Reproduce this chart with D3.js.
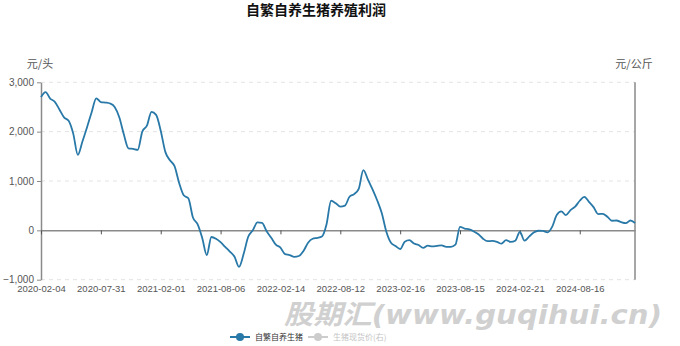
<!DOCTYPE html>
<html>
<head>
<meta charset="utf-8">
<script src="https://cdn.jsdelivr.net/npm/d3@7"></script>
<style>
  body { margin: 0; background: #fff; }
  svg { display: block; font-family: "Liberation Sans", "Noto Sans CJK SC", sans-serif; }
</style>
</head>
<body>
<svg id="chart" width="680" height="346"></svg>
<script>
'use strict';

// tick labels on the category axis, one every 13 points
const tickLabels = ['2020-02-04', '2020-07-31', '2021-02-01', '2021-08-06', '2022-02-14',
  '2022-08-12', '2023-02-16', '2023-08-15', '2024-02-21', '2024-08-16'];
const tickEvery = 13;

// profit per head (元/头) at equal steps
const profit = [
  2700, 2800, 2670, 2605, 2450, 2290, 2220, 1960, 1530, 1800,
  2090, 2395, 2676, 2600, 2590, 2570, 2500, 2290, 1940, 1660,
  1650, 1630, 2000, 2120, 2400, 2340, 2020, 1590, 1420, 1300,
  960, 710, 650, 260, 125, -150, -500, -135, -170, -240,
  -335, -430, -530, -740, -480, -130, 0, 160, 150, -20,
  -150, -290, -350, -483, -500, -536, -520, -420, -250, -170,
  -152, -125, 120, 600, 550, 480, 500, 680, 735, 840,
  1220, 1030, 830, 610, 350, -27, -250, -318, -378, -230,
  -200, -267, -297, -355, -310, -325, -315, -305, -335, -335,
  -290, 70, 37, 18, -22, -80, -170, -220, -215, -232,
  -270, -200, -235, -210, -30, -210, -128, -45, -8, -12,
  -40, 70, 310, 385, 310, 410, 480, 600, 680, 578,
  470, 330, 335, 275, 195, 200, 165, 145, 200, 150,
];
const yTicks = [-1000, 0, 1000, 2000, 3000];

const seriesNames = ['自繁自养生猪', '生猪现货价(右)'];
const seriesColors = ['#2878a8', '#cccccc'];

const svg = d3.select('#chart');
const plotL = 41, plotR = 635, plotT = 82.3, plotB = 279.7;
const axisColor = '#8a8a8a';
const textColor = '#555';

const x = d3.scaleLinear().domain([0, profit.length - 1]).range([plotL, plotR]);
const y = d3.scaleLinear().domain([-1000, 3000]).range([plotB, plotT]);
const tickIdx = tickLabels.map((d, i) => i * tickEvery);

// title
svg.append('text')
  .attr('x', 316).attr('y', 15)
  .attr('text-anchor', 'middle')
  .attr('font-family', '"Noto Sans CJK SC", sans-serif')
  .attr('font-weight', 'bold')
  .attr('font-size', 14)
  .attr('fill', '#111')
  .text('自繁自养生猪养殖利润');

// axis names
svg.append('text')
  .attr('x', 40).attr('y', 68)
  .attr('text-anchor', 'middle')
  .attr('font-family', '"Noto Sans CJK SC", sans-serif')
  .attr('font-size', 11).attr('fill', textColor)
  .text('元/头');
svg.append('text')
  .attr('x', 634).attr('y', 68)
  .attr('text-anchor', 'middle')
  .attr('font-family', '"Noto Sans CJK SC", sans-serif')
  .attr('font-size', 11).attr('fill', textColor)
  .text('元/公斤');

// dashed grid
svg.append('g')
  .selectAll('line')
  .data(yTicks.filter((d) => d !== 0))
  .join('line')
  .attr('x1', plotL).attr('x2', plotR)
  .attr('y1', (d) => y(d)).attr('y2', (d) => y(d))
  .attr('stroke', '#e3e3e3')
  .attr('stroke-dasharray', '4,4');

// left axis
const yAxis = svg.append('g')
  .attr('transform', `translate(${plotL},0)`)
  .call(d3.axisLeft(y).tickValues(yTicks).tickFormat(d3.format(',')).tickSizeInner(4).tickSizeOuter(0).tickPadding(3));
yAxis.select('.domain').attr('stroke', axisColor).attr('stroke-width', 1.5);
yAxis.selectAll('.tick line').attr('stroke', axisColor);
yAxis.selectAll('text').attr('fill', textColor).attr('font-size', 10);

// right axis line (second series has no visible values)
svg.append('line')
  .attr('x1', plotR).attr('x2', plotR)
  .attr('y1', plotT).attr('y2', plotB)
  .attr('stroke', axisColor).attr('stroke-width', 1.5);

// category axis sitting on zero
const xAxis = svg.append('g')
  .attr('transform', `translate(0,${y(0)})`)
  .call(d3.axisBottom(x).tickValues(tickIdx).tickFormat('').tickSizeInner(4).tickSizeOuter(0));
xAxis.select('.domain').attr('stroke', axisColor).attr('stroke-width', 1.5);
xAxis.selectAll('.tick line').attr('stroke', '#555');

// category labels at the bottom
const xLab = svg.append('g')
  .attr('transform', `translate(0,${plotB})`)
  .call(d3.axisBottom(x).tickValues(tickIdx).tickFormat((d, i) => tickLabels[i]).tickSize(0).tickPadding(6));
xLab.select('.domain').remove();
xLab.selectAll('text').attr('fill', textColor).attr('font-size', 9.5);

// profit line
const line = d3.line()
  .x((d, i) => x(i))
  .y((d) => y(d))
  .curve(d3.curveMonotoneX);
svg.append('path')
  .datum(profit)
  .attr('fill', 'none')
  .attr('stroke', seriesColors[0])
  .attr('stroke-width', 1.8)
  .attr('stroke-linejoin', 'round')
  .attr('d', line);

// watermark
svg.append('text')
  .attr('x', 284).attr('y', 324)
  .attr('textLength', 378)
  .attr('lengthAdjust', 'spacingAndGlyphs')
  .attr('font-family', '"DejaVu Sans", "Noto Sans CJK SC", sans-serif')
  .attr('font-weight', 'bold')
  .attr('font-style', 'italic')
  .attr('font-size', 27)
  .attr('fill', '#c8c8c8')
  .attr('fill-opacity', 0.85)
  .text('股期汇(www.guqihui.cn)');

// legend
const legendX = [230, 308];
const legend = svg.append('g')
  .selectAll('g')
  .data(seriesNames)
  .join('g')
  .attr('transform', (d, i) => `translate(${legendX[i]},337)`);
legend.append('line')
  .attr('x1', 0).attr('x2', 20)
  .attr('stroke', (d, i) => seriesColors[i])
  .attr('stroke-width', 2);
legend.append('circle')
  .attr('cx', 10).attr('r', 4)
  .attr('fill', (d, i) => seriesColors[i]);
legend.append('text')
  .attr('x', 25).attr('dy', '0.35em')
  .attr('font-family', '"Noto Sans CJK SC", sans-serif')
  .attr('font-size', 8)
  .attr('fill', (d, i) => i === 0 ? '#333' : '#c4c4c4')
  .text((d) => d);
</script>
</body>
</html>
